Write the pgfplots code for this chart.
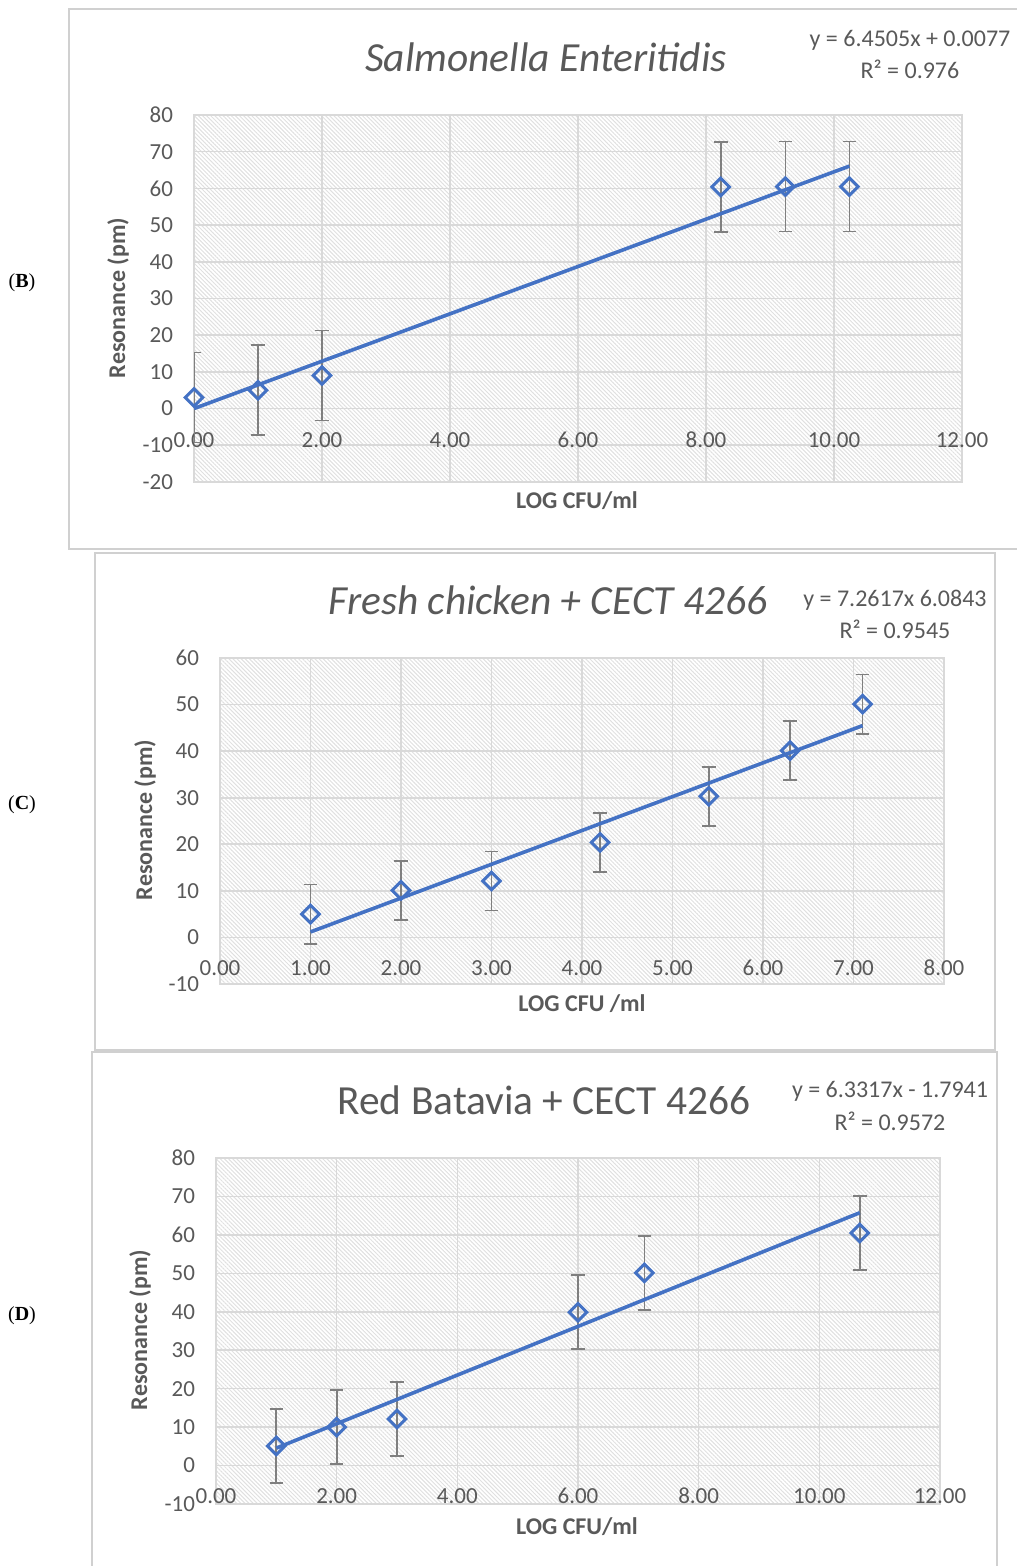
\documentclass[border=0pt]{standalone}
\usepackage{fontspec}
\setmainfont{Carlito}
\newfontfamily\timesfont{Liberation Serif}
\usepackage{pgfplots}
\usepackage{pgfplotstable}
\pgfplotsset{compat=1.18}
\usetikzlibrary{patterns.meta}
\definecolor{xblue}{HTML}{4472C4}
\definecolor{errgray}{HTML}{7F7F7F}
\definecolor{gridgray}{HTML}{D9D9D9}
\definecolor{hatch}{HTML}{E0E0E0}
\definecolor{textgray}{HTML}{595959}
\definecolor{framegray}{HTML}{D0D0D0}

\pgfplotstableread{
x y e
0 3 12.25
1.0 5 12.25
2.0 9 12.25
8.23 60.4 12.25
9.24 60.5 12.25
10.24 60.5 12.25
}\dataB
\pgfplotstableread{
x y e
1.0 5 6.35
2.0 10.1 6.35
3.0 12.1 6.35
4.2 20.4 6.35
5.4 30.3 6.35
6.3 40.1 6.35
7.1 50.1 6.35
}\dataC
\pgfplotstableread{
x y e
1.0 5.1 9.6
2.0 10.0 9.6
3.0 12.1 9.6
6.0 39.9 9.6
7.1 50.1 9.6
10.67 60.5 9.6
}\dataD

\pgfplotsset{
  excel/.style={
    scale only axis,
    clip mode=individual,
    axis line style={draw=gridgray, line width=0.8pt},
    grid=major,
    major grid style={draw=gridgray, line width=0.8pt},
    tick style={draw=none},
    axis background/.style={pattern={Lines[angle=-45,distance=1.45pt,line width=0.5pt]}, pattern color=hatch},
    ticklabel style={font=\fontsize{11.5}{13}\selectfont, text=textgray},
    /pgf/number format/assume math mode=true,
    xticklabel style={anchor=center, /pgf/number format/fixed, /pgf/number format/fixed zerofill, /pgf/number format/precision=2},
    yticklabel style={anchor=east, xshift=-7pt},
  },
  errs/.style={
    draw=none, mark=none,
    error bars/.cd, y dir=both, y explicit,
      error bar style={draw=errgray, line width=0.85pt},
      error mark options={rotate=90, mark size=3.4pt, draw=errgray, line width=0.85pt},
  },
  pts/.style={
    only marks,
    mark=square,
    mark options={rotate=45, draw=xblue, fill=white, line width=1.5pt, mark size=3.1pt},
  },
  trend/.style={no marks, draw=xblue, line width=1.8pt},
}

\begin{document}
\begin{tikzpicture}
\path[use as bounding box] (0pt,0pt) rectangle (508pt,783pt);

% ---------- frames ----------
\draw[framegray, line width=0.6pt] (34.5pt,508.5pt) rectangle (512pt,778.5pt);
\draw[framegray, line width=0.6pt] (47.5pt,258pt) rectangle (497.5pt,506.5pt);
\draw[framegray, line width=0.6pt] (46pt,-5pt) rectangle (498.5pt,257pt);

% ---------- panel B ----------
\begin{axis}[excel, at={(97pt,542pt)}, anchor=south west,
  width=384pt, height=183.5pt,
  xmin=0, xmax=12, ymin=-20, ymax=80,
  xtick={0,2,4,6,8,10,12}, ytick={-20,-10,0,10,20,30,40,50,60,70,80},
  x tick label style={yshift=21pt}]
\addplot[errs] table[x=x, y=y, y error=e] {\dataB};
\addplot[pts] table[x=x, y=y] {\dataB};
\addplot[trend] coordinates {(0,0.0077) (10.24,66.06)};
\end{axis}
\node[font=\fontsize{20.7}{24}\selectfont\itshape, text=textgray] at (273pt,754.5pt) {Salmonella Enteritidis};
\node[font=\fontsize{12}{14}\selectfont, text=textgray] at (455pt,763pt) {y = 6.4505x + 0.0077};
\node[font=\fontsize{12}{14}\selectfont, text=textgray] at (455pt,748.5pt) {R² = 0.976};
\node[font=\fontsize{12}{14}\selectfont\bfseries, text=textgray, rotate=90] at (59pt,634pt) {Resonance (pm)};
\node[font=\fontsize{12}{14}\selectfont\bfseries, text=textgray] at (288.5pt,532.5pt) {LOG CFU/ml};
\node[font=\timesfont\fontsize{10}{12}\selectfont] at (11pt,641.5pt) {(\textbf{B})};

% ---------- panel C ----------
\begin{axis}[excel, at={(110pt,291pt)}, anchor=south west,
  width=362pt, height=163pt,
  xmin=0, xmax=8, ymin=-10, ymax=60,
  xtick={0,1,2,3,4,5,6,7,8}, ytick={-10,0,10,20,30,40,50,60},
  x tick label style={yshift=8pt}]
\addplot[errs] table[x=x, y=y, y error=e] {\dataC};
\addplot[pts] table[x=x, y=y] {\dataC};
\addplot[trend] coordinates {(1.0,1.1774) (7.1,45.474)};
\end{axis}
\node[font=\fontsize{20.7}{24}\selectfont\itshape, text=textgray] at (274pt,483pt) {Fresh chicken + CECT 4266};
\node[font=\fontsize{12}{14}\selectfont, text=textgray] at (447.5pt,483pt) {y = 7.2617x 6.0843};
\node[font=\fontsize{12}{14}\selectfont, text=textgray] at (447.5pt,468.5pt) {R² = 0.9545};
\node[font=\fontsize{12}{14}\selectfont\bfseries, text=textgray, rotate=90] at (72.5pt,373pt) {Resonance (pm)};
\node[font=\fontsize{12}{14}\selectfont\bfseries, text=textgray] at (291pt,281pt) {LOG CFU /ml};
\node[font=\timesfont\fontsize{10}{12}\selectfont] at (11pt,380.5pt) {(\textbf{C})};

% ---------- panel D ----------
\begin{axis}[excel, at={(108pt,31pt)}, anchor=south west,
  width=362pt, height=173pt,
  xmin=0, xmax=12, ymin=-10, ymax=80,
  xtick={0,2,4,6,8,10,12}, ytick={-10,0,10,20,30,40,50,60,70,80},
  x tick label style={yshift=4pt}]
\addplot[errs] table[x=x, y=y, y error=e] {\dataD};
\addplot[pts] table[x=x, y=y] {\dataD};
\addplot[trend] coordinates {(1.0,4.5376) (10.67,65.765)};
\end{axis}
\node[font=\fontsize{20.7}{24}\selectfont, text=textgray] at (272pt,233pt) {Red Batavia + CECT 4266};
\node[font=\fontsize{12}{14}\selectfont, text=textgray] at (445pt,237.5pt) {y = 6.3317x - 1.7941};
\node[font=\fontsize{12}{14}\selectfont, text=textgray] at (445pt,222.5pt) {R² = 0.9572};
\node[font=\fontsize{12}{14}\selectfont\bfseries, text=textgray, rotate=90] at (70pt,118pt) {Resonance (pm)};
\node[font=\fontsize{12}{14}\selectfont\bfseries, text=textgray] at (288.5pt,19.5pt) {LOG CFU/ml};
\node[font=\timesfont\fontsize{10}{12}\selectfont] at (11pt,125pt) {(\textbf{D})};
\end{tikzpicture}
\end{document}
